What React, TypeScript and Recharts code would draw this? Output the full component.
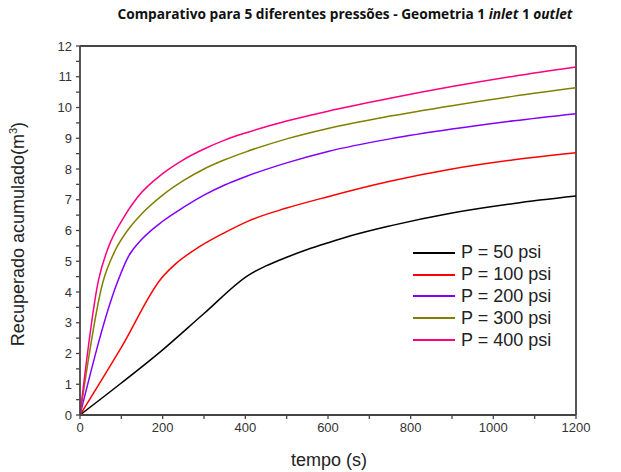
import { LineChart, Line, XAxis, YAxis, ReferenceLine, Legend } from 'recharts';

// tempo (s) / recuperado acumulado (m³)
const t50 = [0, 100, 200, 300, 408, 450, 500, 550, 600, 653, 750, 900, 1050, 1200];
const v50 = [0, 1.04, 2.12, 3.3, 4.55, 4.85, 5.13, 5.38, 5.6, 5.82, 6.15, 6.57, 6.88, 7.12];

const t100 = [0, 100, 197, 230, 290, 350, 411, 500, 600, 750, 900, 1050, 1200];
const v100 = [0, 2.2, 4.45, 4.9, 5.48, 5.93, 6.33, 6.73, 7.1, 7.6, 8.0, 8.3, 8.53];

const t200 = [0, 90, 117, 150, 200, 250, 300, 350, 400, 500, 600, 750, 900, 1050, 1200];
const v200 = [0, 4.3, 5.15, 5.72, 6.3, 6.75, 7.15, 7.48, 7.75, 8.2, 8.57, 8.98, 9.3, 9.57, 9.8];

const t300 = [0, 55, 85, 115, 150, 200, 250, 300, 350, 400, 500, 600, 750, 900, 1050, 1200];
const v300 = [0, 4.3, 5.35, 6.0, 6.55, 7.15, 7.62, 8.0, 8.3, 8.55, 8.98, 9.32, 9.72, 10.06, 10.37, 10.64];

const t400 = [0, 45, 70, 100, 140, 200, 250, 300, 350, 400, 500, 600, 750, 900, 1050, 1200];
const v400 = [0, 4.4, 5.5, 6.3, 7.1, 7.85, 8.3, 8.65, 8.94, 9.17, 9.56, 9.88, 10.3, 10.68, 11.02, 11.32];

const seriesNames = ['P = 50 psi', 'P = 100 psi', 'P = 200 psi', 'P = 300 psi', 'P = 400 psi'];
const seriesColors = ['#000000', '#ff0000', '#8000ff', '#808000', '#ff0080'];

const xTicks = [0, 100, 200, 300, 400, 500, 600, 700, 800, 900, 1000, 1100, 1200];
const yTicks = [0, 0.5, 1, 1.5, 2, 2.5, 3, 3.5, 4, 4.5, 5, 5.5, 6, 6.5, 7, 7.5, 8, 8.5, 9, 9.5, 10, 10.5, 11, 11.5, 12];

const zip = (ts: number[], vs: number[]) => ts.map((t, i) => ({ t, v: vs[i] }));
const series = [zip(t50, v50), zip(t100, v100), zip(t200, v200), zip(t300, v300), zip(t400, v400)];

const AXIS = '#444';
const FONT = '"Liberation Sans", Arial, sans-serif';

function XTick(props: any) {
  const { x, y, payload } = props;
  if (payload.value % 200 !== 0) return null;
  return (
    <text x={x} y={y} dy="0.8em" textAnchor="middle" fontSize={13} fill="#333" fontFamily={FONT}>
      {payload.value}
    </text>
  );
}

function YTick(props: any) {
  const { x, y, payload } = props;
  if (payload.value % 1 !== 0) return null;
  return (
    <text x={x} y={y} dy="0.35em" textAnchor="end" fontSize={13} fill="#333" fontFamily={FONT}>
      {payload.value}
    </text>
  );
}

function LegendBox() {
  return (
    <div style={{ fontFamily: FONT, fontSize: 18, color: '#222' }}>
      {seriesNames.map((name, i) => (
        <div key={name} style={{ display: 'flex', alignItems: 'center', height: 21.8 }}>
          <div style={{ width: 42, height: 2, background: seriesColors[i], marginRight: 6 }} />
          <span>{name}</span>
        </div>
      ))}
    </div>
  );
}

export default function App() {
  return (
    <div style={{ position: 'absolute', left: 0, top: 0, width: 621, height: 472, background: '#fff' }}>
      <div
        style={{
          position: 'absolute', left: 35, top: 4, width: 620, textAlign: 'center',
          fontFamily: '"Open Sans", sans-serif', fontWeight: 700, fontSize: 13.7, color: '#111', whiteSpace: 'nowrap',
        }}
      >
        Comparativo para 5 diferentes pressões - Geometria 1 <i>inlet</i> 1 <i>outlet</i>
      </div>
      <LineChart width={621} height={472} margin={{ top: 46, right: 45, bottom: 27, left: 40 }}>
        <XAxis
          type="number" dataKey="t" domain={[0, 1200]} ticks={xTicks} interval={0}
          height={30} tickSize={4} tickMargin={3}
          tickLine={{ stroke: AXIS, strokeWidth: 1.3 }}
          axisLine={{ stroke: AXIS, strokeWidth: 1.8 }} tick={<XTick />} allowDataOverflow
        />
        <YAxis
          type="number" dataKey="v" domain={[0, 12]} ticks={yTicks} interval={0}
          width={40} tickSize={4} tickMargin={4}
          tickLine={{ stroke: AXIS, strokeWidth: 1.3 }}
          axisLine={{ stroke: AXIS, strokeWidth: 1.8 }} tick={<YTick />} allowDataOverflow
        />
        <ReferenceLine y={12} stroke={AXIS} strokeWidth={1.8} />
        <ReferenceLine x={1200} stroke={AXIS} strokeWidth={1.8} />
        {series.map((d, i) => (
          <Line
            key={seriesNames[i]} data={d} dataKey="v" name={seriesNames[i]} type="monotone"
            stroke={seriesColors[i]} strokeWidth={1.5} dot={false} isAnimationActive={false}
          />
        ))}
        <Legend
          layout="vertical" align="center" verticalAlign="middle" content={<LegendBox />}
          wrapperStyle={{ left: 413, top: 242, width: 170 }}
        />
      </LineChart>
      <div style={{ position: 'absolute', left: 0, top: 450, width: 658, textAlign: 'center', fontFamily: FONT, fontSize: 18, color: '#222' }}>
        tempo (s)
      </div>
      <div style={{ position: 'absolute', left: 18, top: 234, width: 0, height: 0 }}>
        <div
          style={{
            position: 'absolute', left: 0, top: 0, transform: 'translate(-50%, -50%) rotate(-90deg)',
            fontFamily: FONT, fontSize: 18, color: '#222', whiteSpace: 'nowrap',
          }}
        >
          Recuperado acumulado(m<sup style={{ fontSize: 11 }}>3</sup>)
        </div>
      </div>
    </div>
  );
}
